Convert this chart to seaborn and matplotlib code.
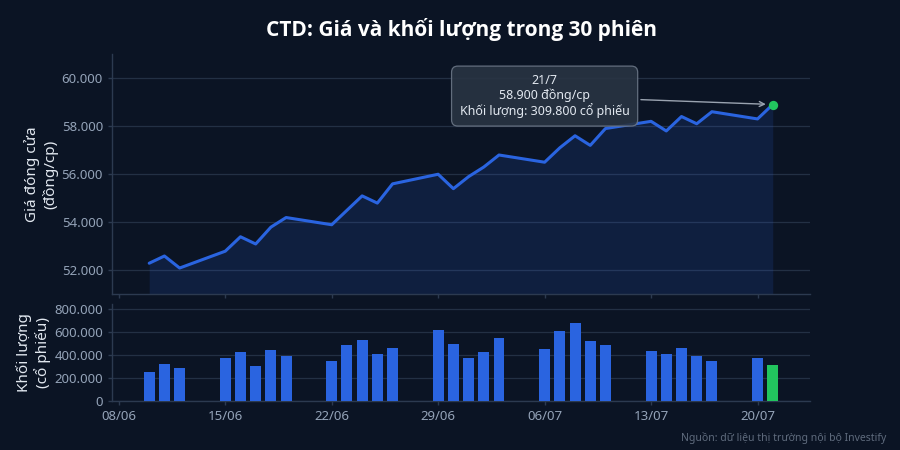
import matplotlib
matplotlib.use("Agg")
import matplotlib.pyplot as plt
import matplotlib.dates as mdates
from matplotlib.ticker import FuncFormatter, MultipleLocator
import numpy as np
import pandas as pd
import seaborn as sns

BG = "#0b1424"
GRID = "#233044"
SPINE = "#2c3a50"
TICK_TXT = "#94a3b8"
LABEL_TXT = "#e2e8f0"
BLUE = "#2a64e0"
GREEN = "#22c55e"

# 30 trading sessions (2020)
dates = [
    "2020-06-10", "2020-06-11", "2020-06-12",
    "2020-06-15", "2020-06-16", "2020-06-17", "2020-06-18", "2020-06-19",
    "2020-06-22", "2020-06-23", "2020-06-24", "2020-06-25", "2020-06-26",
    "2020-06-29", "2020-06-30", "2020-07-01", "2020-07-02", "2020-07-03",
    "2020-07-06", "2020-07-07", "2020-07-08", "2020-07-09", "2020-07-10",
    "2020-07-13", "2020-07-14", "2020-07-15", "2020-07-16", "2020-07-17",
    "2020-07-20", "2020-07-21",
]
close_price = [
    52300, 52600, 52100,
    52800, 53400, 53100, 53800, 54200,
    53900, 54500, 55100, 54800, 55600,
    56000, 55400, 55900, 56300, 56800,
    56500, 57100, 57600, 57200, 57900,
    58200, 57800, 58400, 58100, 58600,
    58300, 58900,
]
volume = [
    245000, 318000, 280000,
    371000, 420000, 300000, 444000, 391000,
    347000, 479000, 531000, 403000, 458000,
    613000, 493000, 368000, 423000, 540000,
    452000, 601000, 675000, 517000, 479000,
    435000, 403000, 458000, 391000, 347000,
    371000, 309800,
]

df = pd.DataFrame({"date": pd.to_datetime(dates), "close": close_price, "volume": volume})


def dot_thousands(v, pos=None):
    return f"{int(round(v)):,}".replace(",", ".")


sns.set_theme(style="dark")
plt.rcParams["font.family"] = ["Noto Sans", "DejaVu Sans"]
plt.rcParams["axes.unicode_minus"] = False

fig = plt.figure(figsize=(9, 4.5), dpi=100, facecolor=BG)
ax1 = fig.add_axes([0.1244, 0.3456, 0.7756, 0.5344])
ax2 = fig.add_axes([0.1244, 0.11, 0.7756, 0.2144], sharex=ax1)

for ax in (ax1, ax2):
    ax.set_facecolor(BG)
    for side in ("top", "right"):
        ax.spines[side].set_visible(False)
    for side in ("left", "bottom"):
        ax.spines[side].set_color(SPINE)
        ax.spines[side].set_linewidth(1.0)
    ax.grid(axis="y", color=GRID, linewidth=0.9)
    ax.grid(axis="x", visible=False)
    ax.set_axisbelow(True)
    ax.tick_params(axis="both", colors=SPINE, labelcolor=TICK_TXT, labelsize=9.5,
                   length=3, width=1, left=True, bottom=True)

# price panel
x_num = mdates.date2num(df["date"])
ax1.fill_between(df["date"], df["close"], 51000, color=BLUE, alpha=0.15, linewidth=0)
sns.lineplot(data=df, x="date", y="close", ax=ax1, color=BLUE, linewidth=2.2)
last = df.iloc[-1]
ax1.scatter([last["date"]], [last["close"]], s=45, color=GREEN, linewidth=0, zorder=5)
ax1.set_ylim(51000, 61000)
ax1.yaxis.set_major_locator(MultipleLocator(2000))
ax1.yaxis.set_major_formatter(FuncFormatter(dot_thousands))
ax1.set_xlabel("")
ax1.set_ylabel("Giá đóng cửa\n(đồng/cp)", color=LABEL_TXT, fontsize=11, labelpad=2)
ax1.tick_params(axis="x", labelbottom=False)

label = (f"{last['date'].day}/{last['date'].month}\n"
         f"{dot_thousands(last['close'])} đồng/cp\n"
         f"Khối lượng: {dot_thousands(last['volume'])} cổ phiếu")
ax1.annotate(label, xy=(last["date"], last["close"]),
             xytext=(pd.Timestamp("2020-07-06"), 59250), textcoords="data",
             ha="center", va="center", color=LABEL_TXT, fontsize=9,
             linespacing=1.1,
             bbox=dict(boxstyle="round,pad=0.65,rounding_size=0.5", fc="#293443",
                       ec="#6b7686", lw=0.9, alpha=0.9),
             arrowprops=dict(arrowstyle="->", color="#9aa3b0", lw=1.0, shrinkB=5))

# volume panel
bar_colors = [BLUE] * (len(df) - 1) + [GREEN]
ax2.bar(df["date"], df["volume"], width=0.72, color=bar_colors, linewidth=0, zorder=3)
ax2.set_ylim(0, 840000)
ax2.yaxis.set_major_locator(MultipleLocator(200000))
ax2.yaxis.set_major_formatter(FuncFormatter(dot_thousands))
ax2.set_ylabel("Khối lượng\n(cổ phiếu)", color=LABEL_TXT, fontsize=11, labelpad=2)
ax2.set_xlabel("")

ax2.xaxis.set_major_locator(mdates.WeekdayLocator(byweekday=mdates.MO))
ax2.xaxis.set_major_formatter(mdates.DateFormatter("%d/%m"))
ax2.set_xlim(x_num[0] - 2.45, x_num[-1] + 2.45)

fig.text(0.513, 0.935, "CTD: Giá và khối lượng trong 30 phiên", ha="center", va="center",
         color="white", fontsize=15, fontweight="bold",
         family=["Open Sans", "Noto Sans", "DejaVu Sans"])
fig.text(0.985, 0.027, "Nguồn: dữ liệu thị trường nội bộ Investify", ha="right", va="center",
         color="#5f6b7d", fontsize=7.5)

fig.savefig("out.png", dpi=100, facecolor=BG)
